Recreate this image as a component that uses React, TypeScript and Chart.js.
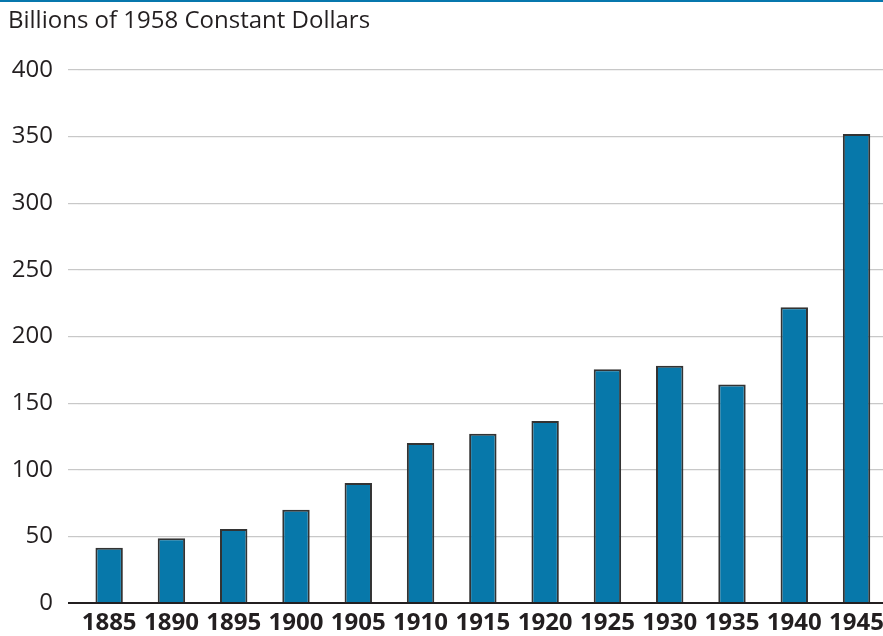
import React, { useEffect, useRef } from "react";
import { Chart, registerables } from "chart.js";

Chart.register(...registerables);

const yearLabels = ["1885", "1890", "1895", "1900", "1905", "1910", "1915", "1920", "1925", "1930", "1935", "1940", "1945"];
const gnpValues = [41.5, 48.5, 55.5, 70, 90, 120, 127, 136.5, 175.5, 178, 164, 222, 352];
const axisTitle = "Billions of 1958 Constant Dollars";
const yMin = 0;
const yMax = 400;
const yStep = 50;

const FONT = "'Open Sans', 'Noto Sans', sans-serif";
const TEXT = "#231f20";

export default function App() {
  const canvasRef = useRef<HTMLCanvasElement | null>(null);

  useEffect(() => {
    const canvas = canvasRef.current;
    if (!canvas) return;
    const chart = new Chart(canvas, {
      type: "bar",
      data: {
        labels: yearLabels,
        datasets: [
          {
            data: gnpValues,
            backgroundColor: "#0778aa",
            borderColor: "#333333",
            borderWidth: 2,
            categoryPercentage: 1,
            barPercentage: 0.44,
          },
        ],
      },
      options: {
        responsive: false,
        animation: false,
        devicePixelRatio: 1,
        layout: { padding: { left: 8, top: 0, right: 0, bottom: 0 } },
        plugins: {
          legend: { display: false },
          tooltip: { enabled: false },
          title: {
            display: true,
            text: axisTitle,
            align: "start",
            color: TEXT,
            font: { family: FONT, size: 24, weight: "normal", lineHeight: 1.2 },
            padding: { top: 6.5, bottom: 34.7 },
          },
        },
        scales: {
          x: {
            grid: { display: false, drawTicks: false },
            border: { display: false },
            ticks: {
              color: TEXT,
              font: { family: FONT, size: 24, weight: "bold" },
              padding: 6,
              maxRotation: 0,
              autoSkip: false,
            },
            afterFit: (axis: any) => {
              axis.height = 33;
            },
          },
          y: {
            min: yMin,
            max: yMax,
            grid: {
              color: (ctx: any) => (ctx.tick && ctx.tick.value === 0 ? "#231f20" : "#c8c8c8"),
              lineWidth: (ctx: any) => (ctx.tick && ctx.tick.value === 0 ? 2 : 1.2),
              drawTicks: true,
              tickLength: 10,
            },
            border: { display: false },
            ticks: {
              stepSize: yStep,
              color: TEXT,
              font: { family: FONT, size: 24 },
              padding: 15,
            },
            afterFit: (axis: any) => {
              axis.width = 70;
            },
          },
        },
      },
    });
    return () => chart.destroy();
  }, []);

  return (
    <div
      style={{
        position: "absolute",
        left: 0,
        top: 0,
        width: 883,
        height: 636,
        overflow: "hidden",
        background: "#fff",
      }}
    >
      <canvas ref={canvasRef} width={890} height={636} style={{ display: "block" }} />
      <div
        style={{
          position: "absolute",
          left: 0,
          top: 0,
          width: 883,
          height: 2,
          background: "#0777ad",
        }}
      />
    </div>
  );
}
